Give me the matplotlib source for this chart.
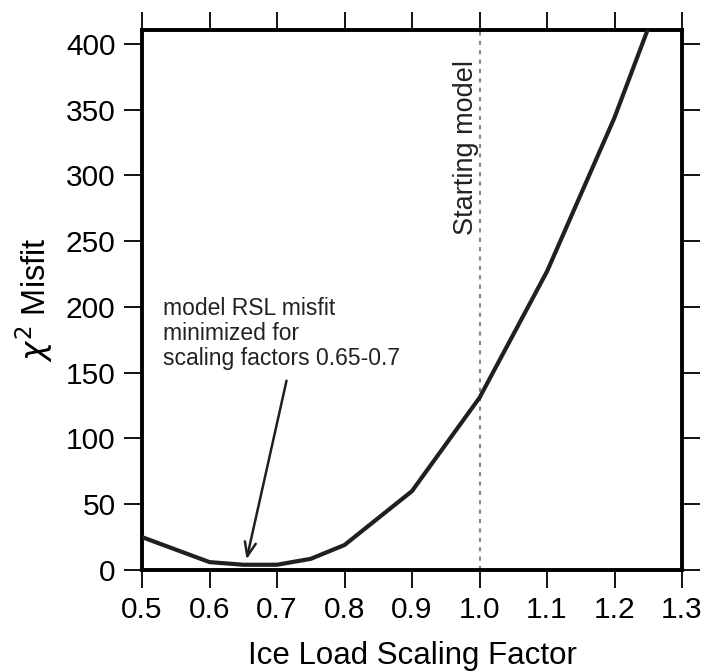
import matplotlib
matplotlib.use("Agg")
import matplotlib.pyplot as plt

plt.rcParams['font.family'] = ['Liberation Sans', 'DejaVu Sans']

scaling = [0.5, 0.6, 0.65, 0.7, 0.75, 0.8, 0.9, 1.0, 1.1, 1.2, 1.25]
misfit = [25, 6, 4, 4, 8.5, 19, 60, 131, 227, 344, 412]
xticks = [0.5, 0.6, 0.7, 0.8, 0.9, 1.0, 1.1, 1.2, 1.3]
xticklabels = ["0.5", "0.6", "0.7", "0.8", "0.9", "1.0", "1.1", "1.2", "1.3"]
yticks = [0, 50, 100, 150, 200, 250, 300, 350, 400]

fig = plt.figure(figsize=(7.05, 6.71), dpi=100)
ax = fig.add_axes([142/705, 1-570/671, 540/705, 540/671])

ax.plot(scaling, misfit, color='#231f20', lw=3, solid_joinstyle='miter', clip_on=True, zorder=3)
ax.axvline(1.0, color='#888888', lw=1.5, ls=(0, (2, 2.5)), zorder=2)

ax.set_xlim(0.5, 1.3)
ax.set_ylim(0, 410.6)
ax.set_xticks(xticks)
ax.set_xticklabels(xticklabels)
ax.set_yticks(yticks)

for s in ax.spines.values():
    s.set_linewidth(2.8)
    s.set_color('black')

ax.tick_params(axis='both', which='both', direction='out', length=13, width=1.3,
               labelsize=21.5, top=True, right=True, labeltop=False, labelright=False, pad=6)

ax.set_xlabel("Ice Load Scaling Factor", fontsize=22.5, labelpad=12)
ax.set_ylabel(r"$\chi^{2}$ Misfit", fontsize=23.5, labelpad=8)

ax.text(0.98, 321, "Starting model", rotation=90, fontsize=19.5,
        ha='center', va='center', color='#222222')

ax.annotate("", xy=(0.654, 6), xytext=(0.715, 146),
            arrowprops=dict(arrowstyle='->,head_length=1.0,head_width=0.4', color='#231f20', lw=1.8))
ax.text(0.531, 180, "model RSL misfit\nminimized for\nscaling factors 0.65-0.7",
        fontsize=16.5, ha='left', va='center', color='#222222', linespacing=1.1)

fig.savefig("out.png", dpi=100)
